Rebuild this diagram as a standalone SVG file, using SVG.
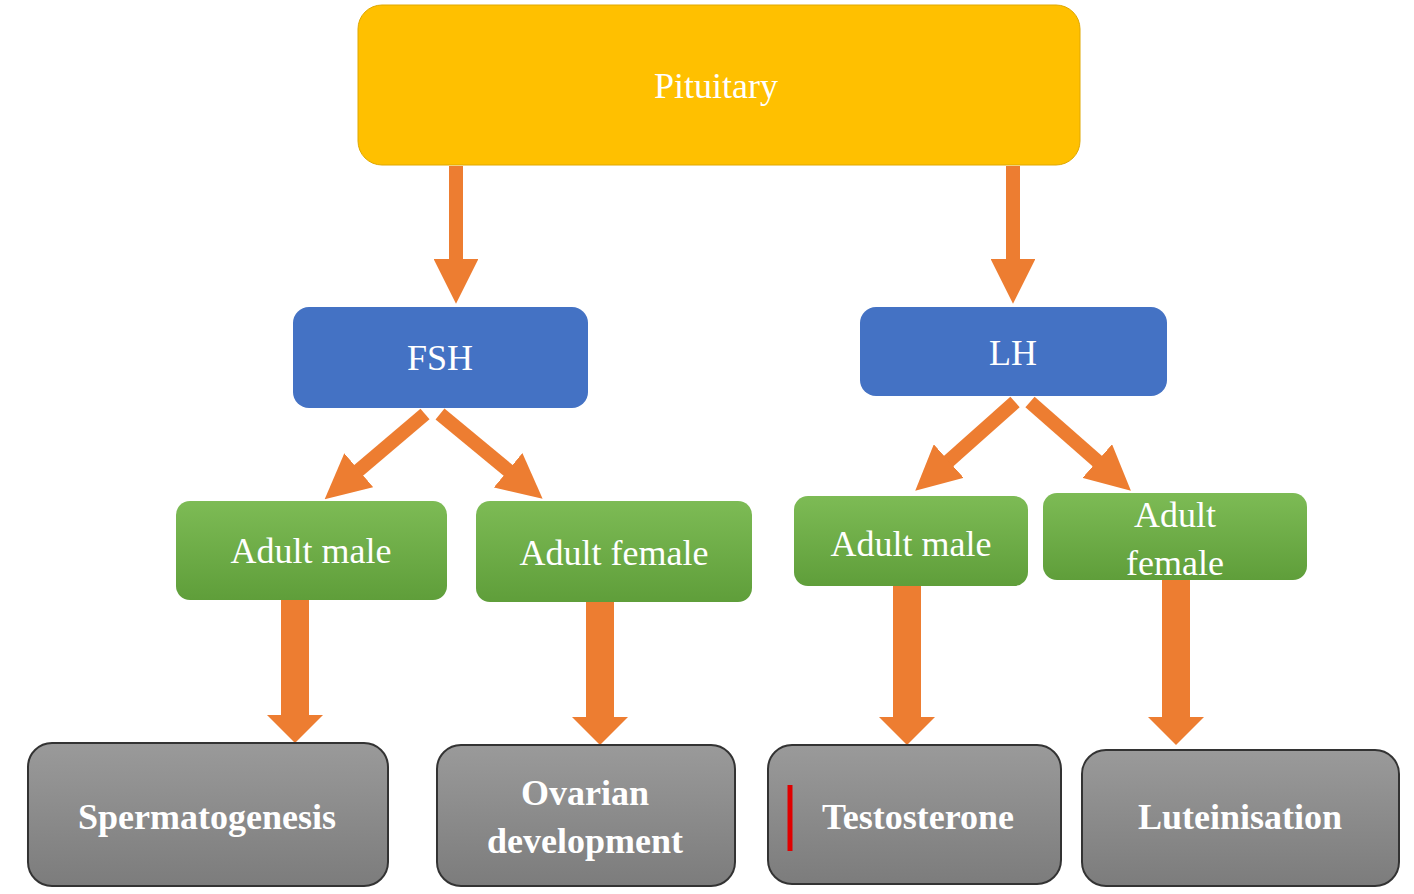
<svg xmlns="http://www.w3.org/2000/svg" width="1414" height="894" viewBox="0 0 1414 894">
<defs>
<linearGradient id="gg" x1="0" y1="0" x2="0" y2="1"><stop offset="0" stop-color="#7dbb55"/><stop offset="1" stop-color="#5f9e3a"/></linearGradient>
<linearGradient id="gy" x1="0" y1="0" x2="0" y2="1"><stop offset="0" stop-color="#9a9a9a"/><stop offset="1" stop-color="#7c7c7c"/></linearGradient>
<marker id="ah" viewBox="0 0 10 10" refX="2" refY="5" markerWidth="3.2" markerHeight="3.2" orient="auto" markerUnits="strokeWidth"><path d="M0,0 L10,5 L0,10 Z" fill="#ED7D31"/></marker>
</defs>
<style>
text{font-family:"Liberation Serif","Times New Roman",serif;fill:#fff;text-anchor:middle}
.n{font-size:36px}
.b{font-size:36px;font-weight:bold}
.ln{stroke:#ED7D31;stroke-width:14;fill:none;marker-end:url(#ah)}
.blk{fill:#ED7D31}
</style>
<rect width="1414" height="894" fill="#fff"/>
<g id="connectors">
<line class="ln" x1="456" y1="166" x2="456" y2="268"/>
<line class="ln" x1="1013" y1="166" x2="1013" y2="268"/>
<line class="ln" x1="425" y1="414" x2="352" y2="476"/>
<line class="ln" x1="440" y1="414" x2="515" y2="476"/>
<line class="ln" x1="1015" y1="402" x2="942" y2="467"/>
<line class="ln" x1="1030" y1="402" x2="1104" y2="467"/>
<polygon class="blk" points="281,600 309,600 309,715 323,715 295,743 267,715 281,715"/>
<polygon class="blk" points="586,602 614,602 614,717 628,717 600,745 572,717 586,717"/>
<polygon class="blk" points="893,586 921,586 921,717 935,717 907,745 879,717 893,717"/>
<polygon class="blk" points="1162,580 1190,580 1190,717 1204,717 1176,745 1148,717 1162,717"/>
</g>
<g id="pituitary"><rect x="358" y="5" width="722" height="160" rx="24" fill="#FFC000" stroke="#e0a800"/><text class="n" x="716" y="98">Pituitary</text></g>
<g id="fsh"><rect x="293" y="307" width="295" height="101" rx="16" fill="#4472C4"/><text class="n" x="440" y="370">FSH</text></g>
<g id="lh"><rect x="860" y="307" width="307" height="89" rx="16" fill="#4472C4"/><text class="n" x="1013" y="365">LH</text></g>
<g id="am1"><rect x="176" y="501" width="271" height="99" rx="14" fill="url(#gg)"/><text class="n" x="311" y="563">Adult male</text></g>
<g id="af1"><rect x="476" y="501" width="276" height="101" rx="14" fill="url(#gg)"/><text class="n" x="614" y="565">Adult female</text></g>
<g id="am2"><rect x="794" y="496" width="234" height="90" rx="14" fill="url(#gg)"/><text class="n" x="911" y="556">Adult male</text></g>
<g id="af2"><rect x="1043" y="493" width="264" height="87" rx="14" fill="url(#gg)"/><text class="n" x="1175" y="527">Adult</text><text class="n" x="1175" y="575">female</text></g>
<g id="sperm"><rect x="28" y="743" width="360" height="143" rx="24" fill="url(#gy)" stroke="#333" stroke-width="2"/><text class="b" x="207" y="829">Spermatogenesis</text></g>
<g id="ovarian"><rect x="437" y="745" width="298" height="141" rx="24" fill="url(#gy)" stroke="#333" stroke-width="2"/><text class="b" x="585" y="805">Ovarian</text><text class="b" x="585" y="853">development</text></g>
<g id="testo"><rect x="768" y="745" width="293" height="139" rx="24" fill="url(#gy)" stroke="#333" stroke-width="2"/><line x1="790" y1="785" x2="790" y2="851" stroke="#e00000" stroke-width="5"/><text class="b" x="918" y="829">Testosterone</text></g>
<g id="lutein"><rect x="1082" y="750" width="317" height="136" rx="24" fill="url(#gy)" stroke="#333" stroke-width="2"/><text class="b" x="1240" y="829">Luteinisation</text></g>
</svg>
